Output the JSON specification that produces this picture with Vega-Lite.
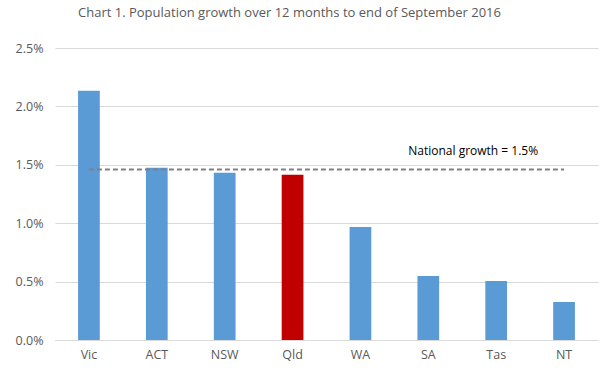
{
  "$schema": "https://vega.github.io/schema/vega-lite/v6.json",
  "autosize": {"type": "none"},
  "padding": {"left": 55, "top": 48, "right": 15, "bottom": 39},
  "width": 543,
  "height": 292,
  "background": "white",
  "title": {
    "text": "Chart 1. Population growth over 12 months to end of September 2016",
    "anchor": "start",
    "frame": "group",
    "dx": 23,
    "offset": 22,
    "font": "Open Sans",
    "fontSize": 13,
    "fontWeight": "normal",
    "color": "#595959"
  },
  "config": {
    "view": {"stroke": null},
    "axis": {"labelFont": "Open Sans", "labelFontSize": 12.5, "labelColor": "#595959"}
  },
  "data": {
    "values": [
      {"state": "Vic", "growth": 0.02134, "highlight": "no", "national": 0.0146},
      {"state": "ACT", "growth": 0.01474, "highlight": "no", "national": 0.0146},
      {"state": "NSW", "growth": 0.01431, "highlight": "no", "national": 0.0146},
      {"state": "Qld", "growth": 0.01414, "highlight": "yes", "national": 0.0146},
      {"state": "WA", "growth": 0.00968, "highlight": "no", "national": 0.0146},
      {"state": "SA", "growth": 0.00548, "highlight": "no", "national": 0.0146},
      {"state": "Tas", "growth": 0.00506, "highlight": "no", "national": 0.0146},
      {"state": "NT", "growth": 0.00326, "highlight": "no", "national": 0.0146}
    ]
  },
  "encoding": {
    "x": {
      "field": "state",
      "type": "nominal",
      "sort": null,
      "scale": {"paddingInner": 0.68, "paddingOuter": 0.34},
      "axis": {"title": null, "labelAngle": 0, "ticks": false, "domain": true, "domainColor": "#d9d9d9", "labelPadding": 8}
    },
    "y": {
      "field": "growth",
      "type": "quantitative",
      "scale": {"domain": [0, 0.025], "nice": false},
      "axis": {"title": null, "format": ".1%", "tickCount": 5, "grid": true, "gridColor": "#d9d9d9", "gridWidth": 1, "labelOverlap": false, "labelFlush": false, "ticks": false, "domain": false, "labelPadding": 12}
    }
  },
  "layer": [
    {
      "mark": {"type": "bar"},
      "encoding": {
        "color": {
          "field": "highlight",
          "type": "nominal",
          "scale": {"domain": ["no", "yes"], "range": ["#5b9bd5", "#c00000"]},
          "legend": null
        }
      }
    },
    {
      "mark": {"type": "line", "color": "#808080", "strokeWidth": 2, "strokeDash": [5, 3]},
      "encoding": {
        "y": {"field": "national", "type": "quantitative"}
      }
    },
    {
      "data": {"values": [{"state": "Tas", "national": 0.0146, "label": "National growth = 1.5%"}]},
      "mark": {"type": "text", "font": "Open Sans", "fontSize": 12, "color": "#000000", "dx": -23, "dy": -18},
      "encoding": {
        "x": {"field": "state", "type": "nominal"},
        "y": {"field": "national", "type": "quantitative"},
        "text": {"field": "label"}
      }
    }
  ]
}
